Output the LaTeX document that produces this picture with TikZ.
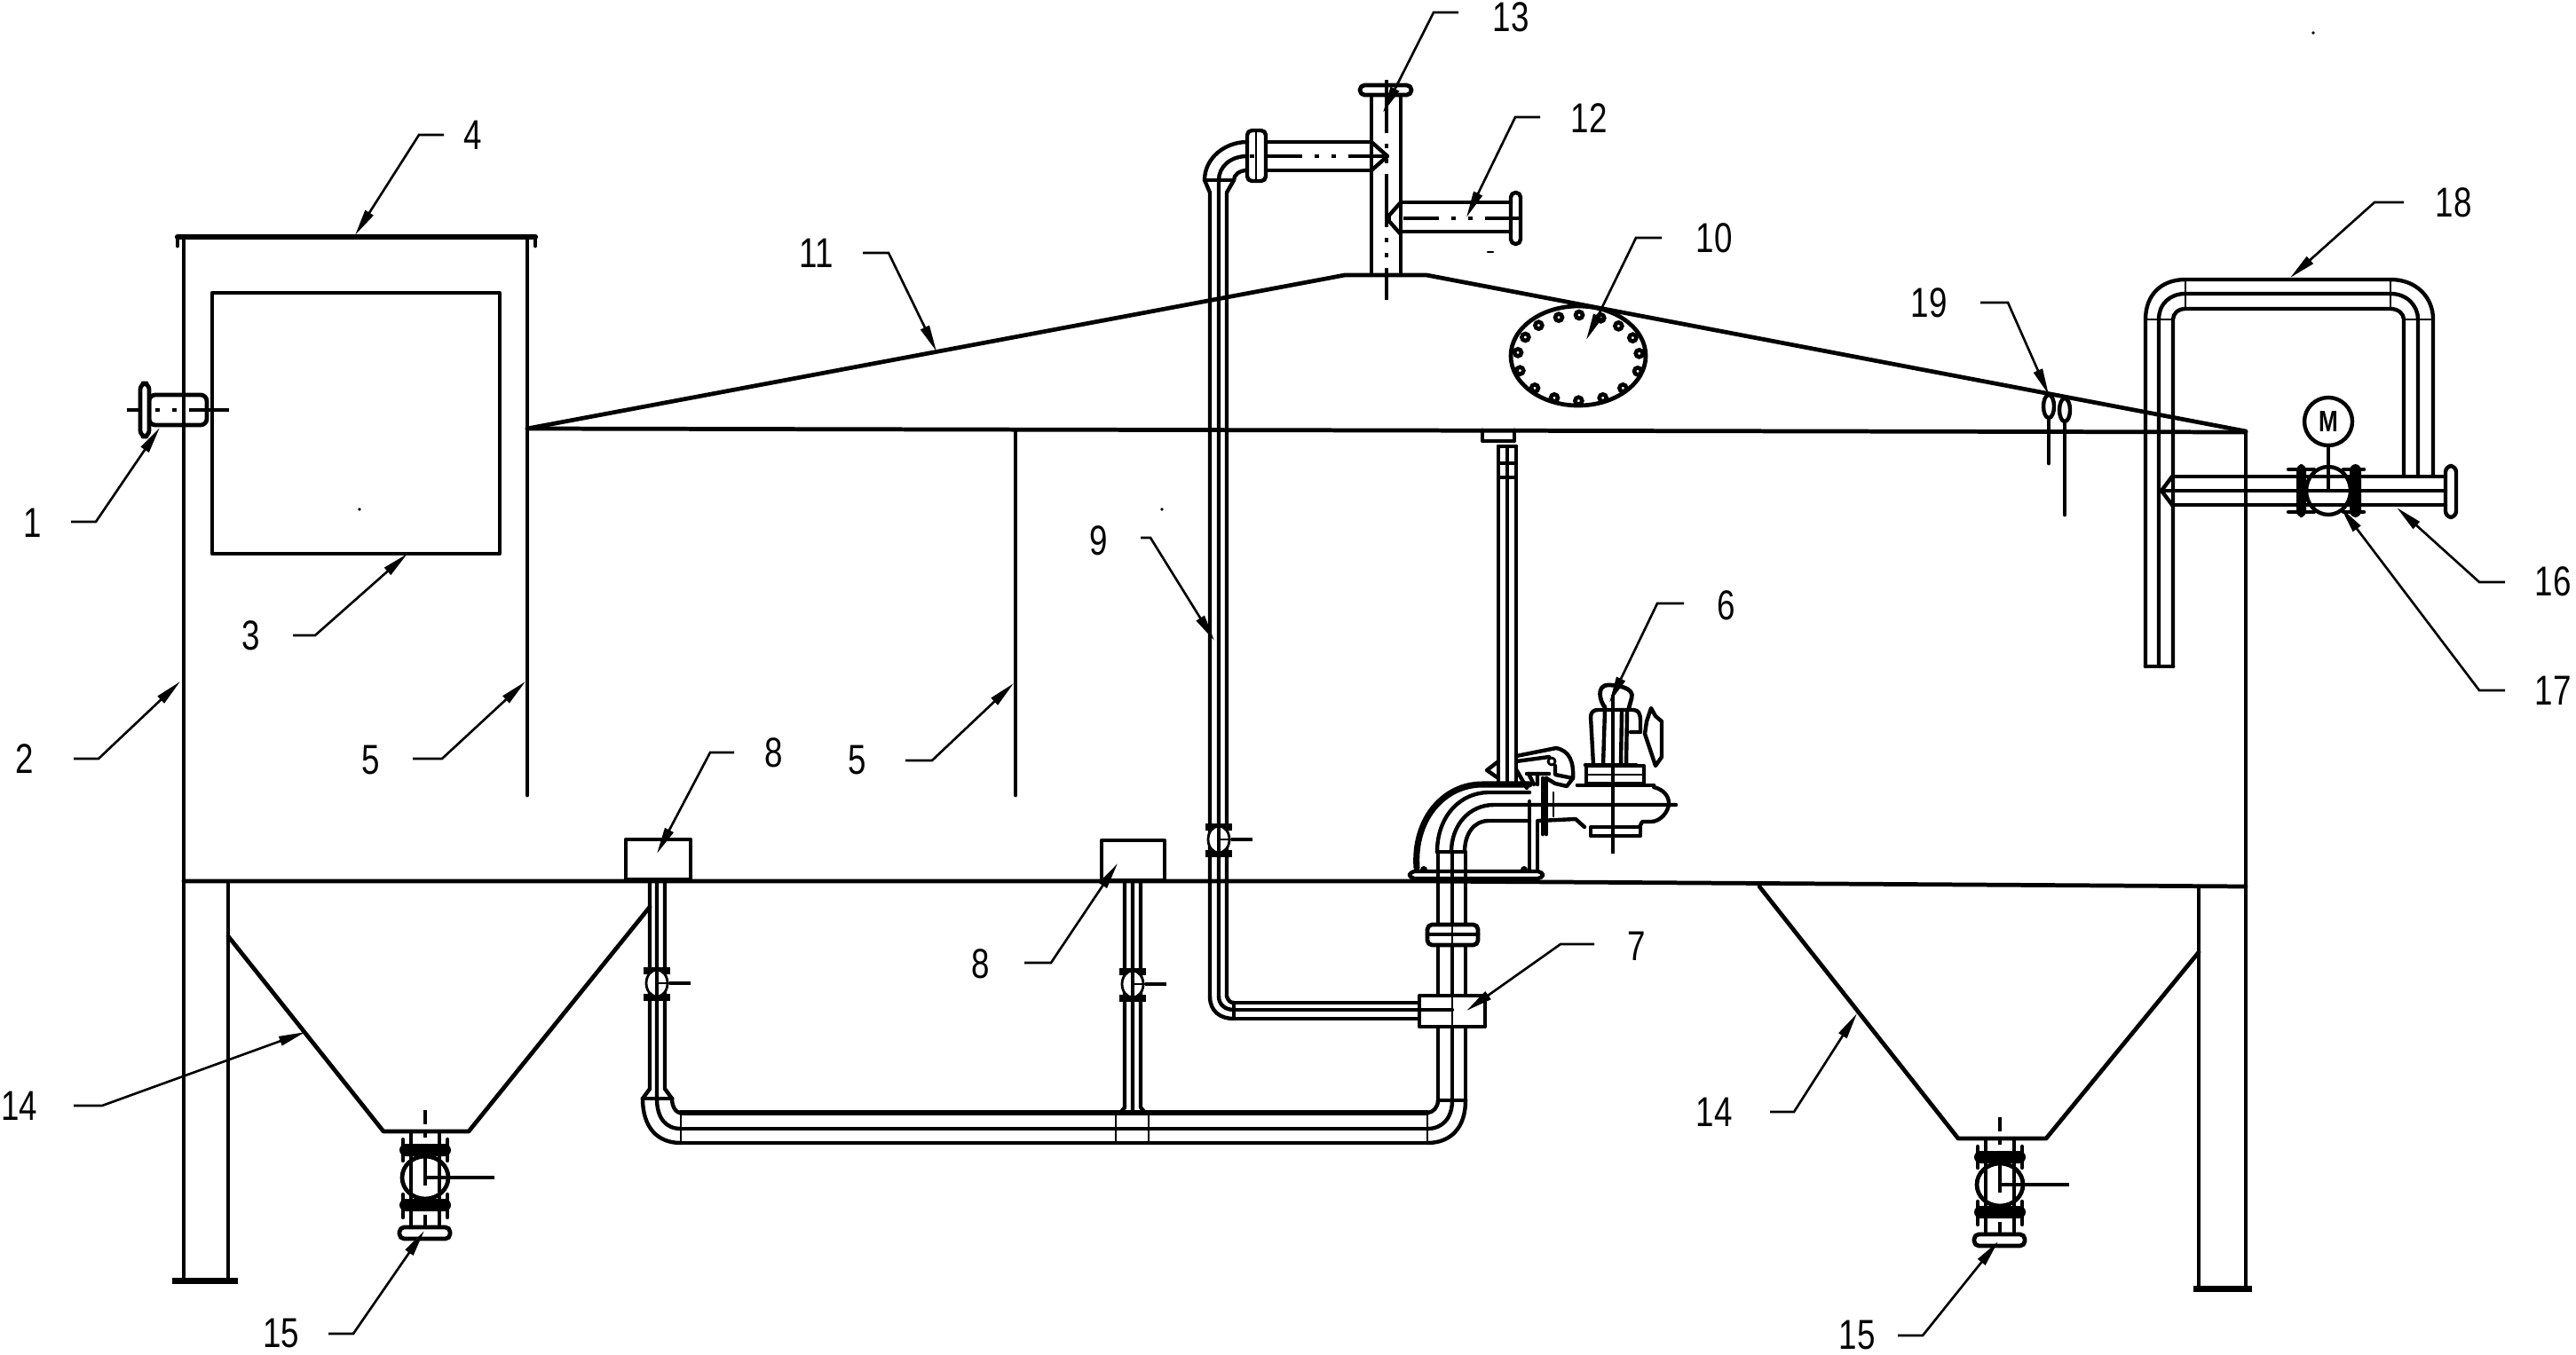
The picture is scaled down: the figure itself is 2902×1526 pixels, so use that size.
\documentclass[tikz,border=0pt]{standalone}
\usepackage{fontspec}
\setmainfont[FakeStretch=0.78]{Liberation Sans}
\usetikzlibrary{arrows.meta}
\tikzset{
  wall/.style={line width=1.35pt,line cap=round,line join=round},
  pipe/.style={line width=1.25pt,line cap=round,line join=round},
  fine/.style={line width=0.8pt,line cap=round,line join=round},
  axis/.style={line width=1.1pt,dash pattern=on 6mm off 1.2mm on 0.5mm off 1.2mm on 0.5mm off 1.2mm},
  lead/.style={line width=0.75pt,-{Stealth[length=3mm,width=1.05mm,inset=0]}},
  num/.style={inner sep=0pt,font=\fontsize{13.4}{14}\selectfont}
}
% callout: id, text, text x,y, free end x, knee x, y, tip x,y
\newcommand\callout[9]{%
  \node[num] (t#1) at (#3,#4) {#2};
  \coordinate (e#1) at (#5,#7);
  \coordinate (k#1) at (#6,#7);
  \coordinate (a#1) at (#8,#9);
  \draw[lead] (e#1) -- (k#1) -- (a#1);
}
\newcommand\smallvalve[2]{%
  \fill (#1-15,#2-18) rectangle (#1+15,#2-10);
  \fill (#1-15,#2+12) rectangle (#1+15,#2+20);
  \draw[fine,fill=white] (#1,#2) ellipse [x radius=12,y radius=15];
  \draw[pipe] (#1,#2-12) -- (#1,#2+12);
  \draw[fine] (#1,#2) -- (#1+14,#2);
  \draw[line width=1.4pt] (#1+14,#2) -- (#1+38,#2);
}
\newcommand\bigvalve[2]{%
  \begin{scope}[shift={(#1,#2)}]
    \draw[pipe] (463,1275) -- (463,1383) (495,1275) -- (495,1383);
    \draw[wall,fill=white,rounded corners=1.5] (450,1383) rectangle (507,1396);
    \fill[rounded corners=2] (450,1289) rectangle (508,1303);
    \fill[rounded corners=2] (450,1351) rectangle (508,1365);
    \draw[pipe] (454,1284) -- (454,1308) (504,1284) -- (504,1308);
    \draw[pipe] (454,1346) -- (454,1372) (504,1346) -- (504,1372);
    \draw[wall,fill=white] (479,1327) ellipse [x radius=26,y radius=24];
    \draw[pipe] (463,1305) -- (463,1350) (495,1305) -- (495,1350);
    \draw[line width=1.1pt] (479,1327) -- (557,1327);
    \draw[axis,dash pattern=on 1.6mm off 1mm on 0.5mm off 1.4mm on 4mm off 1.4mm on 0.5mm off 1.4mm] (479,1251) -- (479,1385);
  \end{scope}
}
\begin{document}
\begin{tikzpicture}[x=0.1mm,y=-0.1mm]
\useasboundingbox (0,0) rectangle (2902,1526);
\clip (0,0) rectangle (2902,1526);

% ---- tank shell
\draw[wall,line width=1.8pt] (200,267) -- (603,267);
\draw[wall] (200,267) -- (200,277) (603,267) -- (603,277);
\draw[wall] (207,268) -- (207,1440);
\draw[wall] (257,994) -- (257,1440);
\fill (194,1440) rectangle (268,1447);
\draw[wall] (239,330) rectangle (563,624);
\draw[wall] (594,268) -- (594,896);
\draw[wall] (1144,485) -- (1144,896);
\draw[wall] (207,993) -- (1600,993) -- (2530,999);
\draw[wall] (2530,487) -- (2530,999);
\draw[wall] (2530,999) -- (2530,1449) (2477,999) -- (2477,1449);
\fill (2471,1449) rectangle (2537,1456);
\draw[wall] (594,483) -- (2530,487);
\draw[wall] (594,483) -- (1515,310) -- (1607,310) -- (2530,486);
% hoppers
\draw[wall] (257,1055) -- (432,1275) -- (528,1275) -- (732,1022);
\draw[wall] (1982,999) -- (2206,1283) -- (2305,1283) -- (2477,1073);

% ---- manway 10
\draw[wall] (1778,401) ellipse [x radius=76,y radius=56];
\foreach \bx/\by in {90/472,115/420,160/380,228/353,297/345,370/355,430/382,478/422,500/475,495/535,445/592,377/625,295/635,213/625,147/592,97/533}
  \draw[line width=1.3pt] ({1680+\bx/3},{240+\by/3}) circle [radius=4];

% ---- vent pipes top
\draw[pipe] (1545,107) -- (1545,310) (1578,107) -- (1578,310);
\draw[wall,rounded corners=1.5] (1532,96) rectangle (1590,107);
\draw[axis] (1562,90) -- (1562,338);
% left branch
\draw[pipe] (1426,160) -- (1545,160) (1426,192) -- (1545,192);
\draw[pipe] (1545,160) -- (1563,176) -- (1545,192);
\draw[pipe,rounded corners=1.5] (1405,147) rectangle (1426,204);
\draw[fine] (1415,147) -- (1415,204);
\draw[axis,dash pattern=on 0.5mm off 1.4mm on 4mm off 1.4mm on 0.5mm off 1.4mm] (1408,176) -- (1563,176);
% right branch
\draw[pipe] (1578,228) -- (1702,228) (1578,261) -- (1702,261);
\draw[pipe] (1578,228) -- (1562,246) -- (1578,264);
\draw[pipe,rounded corners=1.5] (1702,217) rectangle (1713,275);
\draw[axis,dash pattern=on 0.5mm off 1.4mm on 4mm off 1.4mm on 0.5mm off 1.4mm] (1562,246) -- (1719,246);

% ---- pipe 9
\draw[pipe] (1405,160) .. controls (1380,160) and (1357,178) .. (1357,203) -- (1363,217) -- (1363,1123);
\draw[pipe] (1405,176) .. controls (1386,176) and (1373,188) .. (1373,203) -- (1373,1123);
\draw[pipe] (1405,192) .. controls (1396,192) and (1390,197) .. (1390,203) -- (1382,217) -- (1382,1123);
\draw[pipe] (1357,203) -- (1390,203);
\draw[pipe] (1363,1123) .. controls (1363,1140) and (1375,1148) .. (1390,1148);
\draw[pipe] (1373,1123) .. controls (1373,1132) and (1380,1138) .. (1390,1138);
\draw[pipe] (1382,1123) .. controls (1384,1128) and (1386,1130) .. (1390,1130);
\draw[pipe] (1390,1148) -- (1599,1148) (1390,1130) -- (1599,1130);
\draw[pipe] (1390,1130) -- (1390,1148);
\smallvalve{1373}{946}

% ---- drain risers
\draw[pipe] (732,993) -- (732,1227) -- (724,1238) (740,993) -- (740,1238) (749,993) -- (749,1227) -- (757,1238);
\draw[wall] (724,1238) -- (757,1238);
\draw[pipe] (724,1238) .. controls (724,1270) and (740,1288) .. (767,1288);
\draw[pipe] (740,1238) .. controls (740,1260) and (750,1272) .. (767,1272);
\draw[pipe] (757,1238) .. controls (757,1245) and (760,1254) .. (767,1254);
\draw[pipe] (767,1288) -- (1608,1288) (767,1272) -- (1608,1272);
\draw[wall,line width=1.6pt] (767,1254) -- (1608,1254);
\draw[fine] (767,1254) -- (767,1288) (1608,1254) -- (1608,1288);
\draw[pipe] (1608,1254) .. controls (1614,1254) and (1620,1248) .. (1620,1240);
\draw[pipe] (1608,1272) .. controls (1625,1272) and (1636,1260) .. (1636,1240);
\draw[pipe] (1608,1288) .. controls (1635,1288) and (1651,1270) .. (1651,1240);
\draw[wall] (1620,1240) -- (1651,1240);
\draw[pipe] (1267,993) -- (1267,1248) -- (1262,1254) (1276,993) -- (1276,1254) (1285,993) -- (1285,1248) -- (1290,1254);
\draw[fine] (1257,1254) -- (1257,1288) (1294,1254) -- (1294,1288);
\smallvalve{740}{1108}
\smallvalve{1276}{1109}
\draw[wall,fill=white] (705,946) rectangle (778,991);
\draw[wall,fill=white] (1241,947) rectangle (1312,992);

% ---- discharge riser and box 7
\draw[pipe] (1620,960) -- (1620,1240) (1636,960) -- (1636,1240) (1651,960) -- (1651,1240);
\draw[wall,fill=white,rounded corners=1.5] (1608,1042) rectangle (1665,1065);
\draw[wall] (1608,1053) -- (1665,1053);
\draw[fine] (1636,1042) -- (1636,1065);
\draw[wall,fill=white] (1599,1122) rectangle (1673,1157);
\draw[fine] (1636,1122) -- (1636,1157);
\draw[pipe] (1390,1138) -- (1636,1138);

% ---- pump
\draw[wall,line width=2pt] (1596,978) .. controls (1592,925) and (1625,884) .. (1670,884) -- (1723,884);
\draw[pipe] (1619,960) .. controls (1619,920) and (1645,893) .. (1677,893) -- (1723,893);
\draw[pipe] (1635,960) .. controls (1635,930) and (1655,907) .. (1683,907) -- (1888,907);
\draw[pipe] (1650,960) .. controls (1650,940) and (1660,925) .. (1677,925) -- (1723,925);
\draw[wall] (1619,960) -- (1650,960);
\draw[pipe,rounded corners=1.5] (1588,982) rectangle (1738,990);
\fill (1604,980) circle [radius=4] (1717,980) circle [radius=4];
\draw[pipe] (1723,903) -- (1723,982) (1732,925) -- (1732,982);
\draw[wall] (1738,877) -- (1738,940) (1742,877) -- (1742,940);
\draw[fine] (1750,893) -- (1750,920);
% volute
\draw[wall] (1777,885) -- (1863,885);
\draw[pipe] (1863,887) .. controls (1875,890) and (1880,898) .. (1880,905) .. controls (1880,915) and (1870,926) .. (1860,926) -- (1850,926) -- (1847,932);
\draw[pipe] (1733,925) -- (1775,923) -- (1785,932);
\draw[pipe] (1792,932) rectangle (1848,942);
% motor
\draw[pipe] (1787,863) rectangle (1852,883);
\draw[fine] (1787,873) -- (1852,873);
\draw[wall] (1786,862) -- (1843,862);
\draw[pipe] (1795,862) -- (1792,808) .. controls (1792,803) and (1795,800) .. (1800,800) -- (1840,800) .. controls (1846,800) and (1848,805) .. (1848,812) -- (1848,825) -- (1837,825);
\draw[pipe] (1833,800) -- (1832,862);
\draw[pipe] (1808,800) -- (1806,862) (1827,800) -- (1826,862);
\draw[line width=1pt] (1817,783) -- (1817,962);
\draw[wall] (1808,797) .. controls (1802,790) and (1798,772) .. (1812,772) .. controls (1822,772) and (1842,775) .. (1838,787) -- (1835,798);
\draw[pipe] (1855,813) -- (1860,798) -- (1865,807) -- (1872,813) -- (1872,853) -- (1865,863) -- (1853,827) -- cycle;
% lifting gear
\draw[pipe] (1708,852) -- (1753,843) .. controls (1768,846) and (1773,858) .. (1772,877);
\draw[pipe] (1708,858) -- (1745,853);
\draw[fine] (1748,858) circle [radius=4];
\draw[pipe] (1752,863) -- (1752,873) -- (1772,877) -- (1765,886) -- (1752,883) -- (1742,877);
\draw[pipe] (1708,867) -- (1720,888) (1720,872) -- (1745,872);
\draw[pipe] (1722,872) -- (1728,884) (1732,872) -- (1732,884);
\draw[pipe] (1688,858) -- (1675,868) -- (1688,877);

% guide rod
\draw[wall] (1670,485) -- (1670,497) -- (1706,497) -- (1706,485);
\draw[pipe] (1688,503) -- (1688,883) (1698,503) -- (1698,883) (1708,503) -- (1708,883);
\draw[pipe] (1688,503) -- (1708,503);
\draw[pipe] (1688,522) rectangle (1708,538);

% ---- nozzle 1
\draw[wall,rounded corners=2] (168,445) rectangle (233,479);
\draw[wall,fill=white,rounded corners=2] (158,432) rectangle (168,492);
\draw[line width=1.1pt] (143,462) -- (158,462);
\draw[line width=1.1pt] (233,462) -- (258,462);
\draw[axis,dash pattern=on 0.5mm off 1.4mm on 0.5mm off 1.4mm on 4mm off 1.4mm] (175,462) -- (233,462);

% ---- right side U pipe 18
\draw[pipe] (2417,751) -- (2417,360) .. controls (2417,332) and (2435,315) .. (2462,315) -- (2693,315) .. controls (2722,315) and (2741,335) .. (2741,360) -- (2741,537);
\draw[pipe] (2432,751) -- (2432,360) .. controls (2432,342) and (2445,331) .. (2462,331) -- (2693,331) .. controls (2712,331) and (2724,345) .. (2724,360) -- (2724,537);
\draw[pipe] (2448,751) -- (2448,360) .. controls (2448,354) and (2453,348) .. (2462,348) -- (2693,348) .. controls (2702,348) and (2708,354) .. (2708,360) -- (2708,537);
\draw[wall] (2417,751) -- (2448,751);
\draw[fine] (2417,360) -- (2448,360) (2708,360) -- (2741,360) (2462,315) -- (2462,348) (2693,315) -- (2693,348);
% horizontal 16
\draw[pipe] (2447,537) -- (2755,537) (2447,553) -- (2755,553) (2447,569) -- (2755,569);
\draw[pipe] (2447,537) -- (2435,553) -- (2447,569);
\draw[pipe] (2435,553) -- (2447,553);
\draw[pipe,rounded corners=2] (2755,525) rectangle (2767,583);
% valve 17
\fill[rounded corners=2] (2587,523) rectangle (2598,583);
\fill[rounded corners=2] (2647,523) rectangle (2660,583);
\draw[pipe] (2578,529) -- (2607,529) (2640,529) -- (2663,529) (2578,577) -- (2607,577) (2640,577) -- (2663,577);
\draw[pipe] (2623,553) ellipse [x radius=25,y radius=27];
\draw[pipe] (2623,502) -- (2623,553);
\node[circle,draw,line width=1.25pt,minimum size=5.4mm,inner sep=0pt,font=\fontsize{9.5}{10}\bfseries\selectfont] (motor) at (2623,475) {M};
% level switches 19
\draw[pipe] (2308,458) ellipse [x radius=6,y radius=13];
\draw[wall] (2308,471) -- (2308,522);
\draw[pipe] (2326,462) ellipse [x radius=6,y radius=13];
\draw[wall] (2326,475) -- (2326,580);

% ---- outlet valves 15
\bigvalve{0}{0}
\bigvalve{1774}{8}

% ---- specks of the scan
\fill (2606,37) circle [radius=1.8] (1309,574) circle [radius=1.8] (405,574) circle [radius=1.8];
\draw[fine] (1676,284) -- (1682,284);

% ---- callouts
\callout{1}{1}{37}{589}{80}{108}{588}{180}{482}
\callout{2}{2}{28}{855}{83}{111}{855}{203}{768}
\callout{3}{3}{283}{716}{330}{355}{716}{459}{624}
\callout{4}{4}{533}{152}{500}{472}{152}{400}{265}
\callout{5a}{5}{418}{857}{465}{498}{855}{592}{768}
\callout{5b}{5}{966}{857}{1020}{1050}{857}{1142}{770}
\callout{6}{6}{1945}{682}{1897}{1867}{680}{1813}{792}
\callout{7}{7}{1844}{1066}{1796}{1758}{1064}{1652}{1139}
\callout{8a}{8}{872}{848}{827}{800}{848}{740}{962}
\callout{8b}{8}{1105}{1086}{1154}{1184}{1085}{1259}{973}
\callout{9}{9}{1238}{609}{1285}{1296}{606}{1368}{722}
\callout{10}{10}{1931}{268}{1872}{1843}{268}{1787}{383}
\callout{11}{11}{920}{285}{972}{1001}{285}{1055}{396}
\callout{12}{12}{1790}{133}{1735}{1707}{132}{1652}{245}
\callout{13}{13}{1702}{19}{1643}{1615}{14}{1558}{127}
\callout{14a}{14}{22}{1246}{83}{115}{1246}{344}{1163}
\callout{14b}{14}{1931}{1253}{1994}{2021}{1253}{2092}{1142}
\callout{15a}{15}{317}{1503}{370}{398}{1503}{478}{1387}
\callout{15b}{15}{2092}{1505}{2138}{2166}{1505}{2251}{1399}
\callout{16}{16}{2876}{655}{2822}{2793}{656}{2700}{572}
\callout{17}{17}{2876}{778}{2822}{2793}{778}{2637}{572}
\callout{18}{18}{2764}{228}{2708}{2675}{228}{2580}{313}
\callout{19}{19}{2173}{341}{2231}{2262}{341}{2308}{445}
\end{tikzpicture}
\end{document}
